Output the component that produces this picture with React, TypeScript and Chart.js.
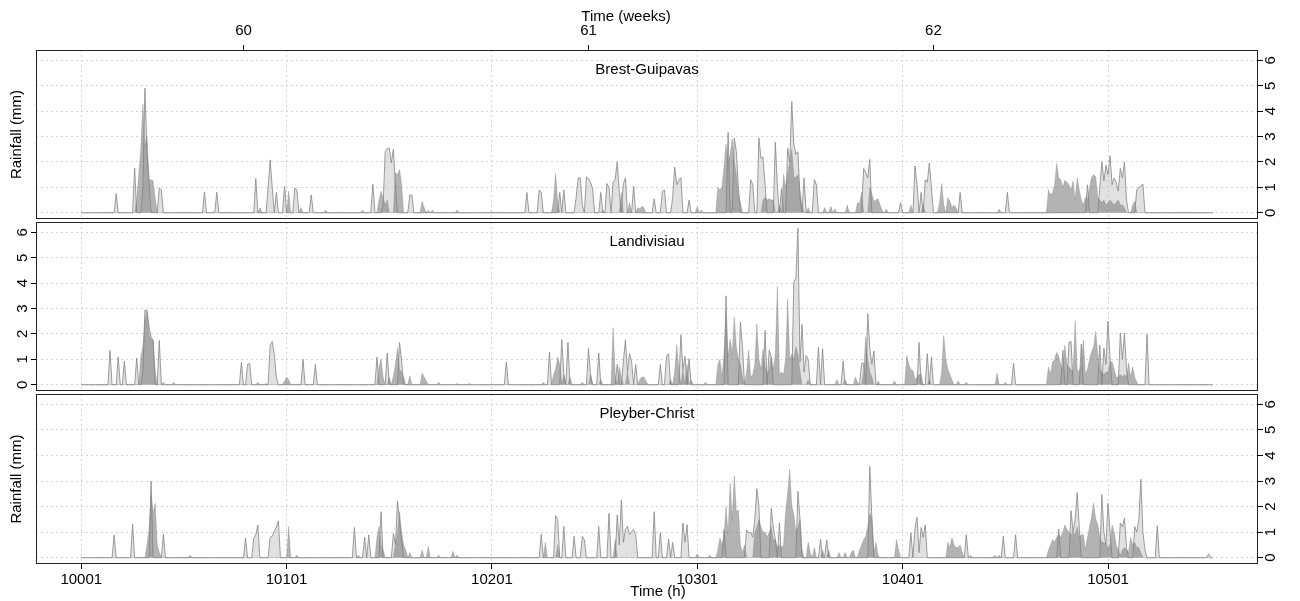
import { useEffect, useRef } from 'react';
import { Chart, registerables } from 'chart.js';

Chart.register(...registerables);

// ---------------- data ----------------
const HOUR_FIRST = 10001;
const HOUR_LAST = 10552;
const HOURS_PER_WEEK = 168;
const hourTicks = [10001, 10101, 10201, 10301, 10401, 10501];
const weekTicks = [60, 61, 62];
const rainTicks = [0, 1, 2, 3, 4, 5, 6];
const stationNames = ['Brest-Guipavas', 'Landivisiau', 'Pleyber-Christ'];
const axisTitles = { weeks: 'Time (weeks)', hours: 'Time (h)', rain: 'Rainfall (mm)' };

// each burst: [first hour, hourly rainfall (mm) from that hour on]
type Burst = [number, number[]];

const brestLight: Burst[] = [
  [10018, [0.76]], [10027, [1.76]], [10031, [1.0, 4.9, 2.4, 1.2]], [10039, [0.98, 0.9]],
  [10061, [0.81]], [10067, [0.81]], [10086, [1.35]], [10092, [1.0, 2.08, 1.0]], [10096, [0.8]],
  [10100, [1.04]], [10105, [0.98, 0.9]], [10113, [0.7]], [10143, [1.13]],
  [10148, [0.3, 2.4, 2.52, 2.54, 1.96, 2.5, 1.0]], [10161, [0.7, 0.7]],
  [10218, [0.8]], [10224, [0.9, 0.8]], [10234, [0.8]], [10236, [0.9]],
  [10242, [0.6, 1.37, 1.38, 0.3]], [10247, [1.42, 1.33, 1.2, 0.95]], [10254, [0.8]],
  [10257, [1.15, 1.0]], [10260, [1.2, 1.3, 2.0, 0.8]], [10265, [1.15, 1.37]], [10270, [1.05]],
  [10280, [0.55]], [10284, [0.85, 0.9]], [10289, [0.6, 1.8, 1.1, 1.28, 1.38]], [10297, [0.5]],
  [10316, [3.16]], [10319, [2.94, 2.42, 1.0]], [10327, [1.3, 1.1]], [10331, [2.94, 2.15, 2.2, 1.1]],
  [10339, [2.78, 1.0]], [10342, [0.95]], [10345, [2.54, 2.0, 4.38, 2.7, 2.3, 2.4, 0.6]],
  [10353, [1.37]], [10358, [1.3, 1.1]], [10382, [1.74, 1.57, 1.37, 2.1]], [10400, [0.4]],
  [10407, [1.84, 1.1]], [10410, [0.8]], [10412, [1.3, 1.2, 1.96, 1.0]], [10429, [0.8]],
  [10452, [0.8]], [10491, [1.1]],
  [10497, [1.0, 2.0, 1.25, 1.87, 1.5, 2.24, 1.1, 1.37, 1.2, 0.85, 1.75, 1.37, 2.0, 0.5]],
  [10515, [0.9, 1.0, 1.05, 1.13]],
];

const brestDark: Burst[] = [
  [10028, [0.5, 1.5, 2.5, 4.27, 2.6, 3.0, 1.3, 1.3, 1.25, 0.6]], [10088, [0.2]], [10102, [0.85]],
  [10108, [0.2]], [10120, [0.1]], [10138, [0.1]], [10146, [0.5, 0.85, 0.6, 0.3, 0.5]],
  [10154, [1.57, 1.5, 1.7, 1.1]], [10167, [0.45, 0.2]], [10170, [0.1]], [10172, [0.1]],
  [10184, [0.1]], [10231, [0.5, 1.54, 0.4]], [10255, [0.1]], [10264, [0.8]], [10268, [0.4]],
  [10272, [0.2, 0.15, 0.25, 0.2]], [10301, [0.25]], [10303, [0.1]],
  [10311, [1.0, 0.9, 1.0, 1.8, 2.7, 2.0, 2.3, 2.9, 2.0, 1.5, 0.7, 0.4]],
  [10333, [0.5, 0.6, 0.5, 0.55, 0.5, 0.5]], [10341, [0.3]],
  [10343, [1.5, 1.0, 1.5, 2.0, 2.5, 1.4, 1.4, 1.5, 0.9, 0.3]], [10355, [0.2]], [10363, [0.2]],
  [10366, [0.25]], [10368, [0.15]], [10374, [0.3]], [10379, [0.4, 0.35, 0.8]],
  [10385, [1.0, 0.75, 0.45, 0.5, 0.55, 0.3, 0.1]], [10393, [0.15]], [10405, [0.3]], [10411, [0.3]],
  [10419, [0.4, 1.15, 0.3]], [10423, [0.6, 0.45, 0.2, 0.3, 0.2]], [10448, [0.15]],
  [10472, [0.9, 0.7, 0.8, 1.1, 1.93, 1.37, 1.3, 1.0, 1.28, 1.2, 1.1, 0.9, 1.25, 0.5, 1.37, 0.9, 0.5,
    0.3, 0.6, 0.5, 1.0, 1.4, 1.5, 1.42, 0.6, 0.5, 0.4, 0.5, 0.3, 0.4, 0.5, 0.4, 0.3, 0.4, 0.5, 0.3, 0.3, 0.2]],
  [10513, [0.3, 0.45]],
];

const landiLight: Burst[] = [
  [10015, [1.35]], [10019, [1.09]], [10022, [0.93]], [10028, [1.05]],
  [10031, [0.5, 2.94, 2.92, 2.3, 1.87, 1.74]], [10039, [1.74]], [10079, [0.88]], [10082, [0.8, 0.84]],
  [10093, [1.55, 1.7, 1.2, 0.3]], [10109, [1.0]], [10115, [0.8]], [10145, [1.09]], [10150, [1.25]],
  [10156, [1.66, 0.95]], [10208, [0.89]], [10229, [1.28]], [10235, [1.78, 0.4]], [10238, [1.67]],
  [10248, [1.43, 0.4]], [10253, [1.25]], [10262, [0.8]], [10265, [0.92, 1.77, 0.5, 1.22, 0.9]],
  [10271, [0.8]], [10283, [0.8]], [10286, [1.12, 1.22]], [10293, [1.97, 0.6, 1.12]], [10297, [1.03]],
  [10315, [3.5]], [10322, [2.47, 1.5]], [10334, [2.13]], [10336, [1.36, 1.1]],
  [10348, [4.03, 4.2, 6.16, 0.9, 2.37, 0.5, 1.15, 1.0]], [10360, [1.48]], [10362, [1.42]],
  [10372, [0.93]], [10381, [0.84, 0.85]], [10384, [2.8, 1.42, 0.8, 1.33]], [10409, [1.67]],
  [10413, [1.22]], [10415, [1.09]], [10455, [0.84]], [10479, [1.36]], [10482, [1.67, 1.7]],
  [10488, [1.6]], [10497, [1.55]], [10499, [1.44, 0.8, 2.5, 1.0]], [10507, [2.03, 1.0, 2.03, 0.6]],
  [10520, [1.98]],
];

const landiDark: Burst[] = [
  [10030, [1.09, 1.5, 2.5, 2.9, 2.0, 1.8, 1.74, 0.55]], [10041, [0.1]], [10046, [0.1]], [10087, [0.1]],
  [10091, [0.05]], [10100, [0.15, 0.3, 0.2]], [10146, [0.7, 1.0, 0.3]], [10151, [0.3]],
  [10153, [0.35, 0.8, 1.45, 0.6, 0.5, 0.3]], [10161, [0.35]], [10167, [0.45, 0.3, 0.15]],
  [10175, [0.1]], [10184, [0.05]], [10190, [0.05]], [10226, [0.1]], [10231, [0.4, 0.6, 1.09, 0.8]],
  [10236, [0.4]], [10239, [0.3]], [10245, [0.1]], [10249, [0.4]], [10254, [0.2]], [10260, [2.24, 0.4]],
  [10263, [0.7, 0.3]], [10267, [0.5]], [10273, [0.2, 0.3, 0.3, 0.15]], [10288, [0.2]],
  [10290, [0.5, 1.57, 0.6]], [10294, [0.6]], [10296, [0.8]], [10298, [0.2]], [10305, [0.1]],
  [10311, [0.8, 1.0, 0.3, 1.2, 2.66, 1.1, 1.8, 1.2, 2.66, 1.5, 1.0, 0.8, 0.3]],
  [10325, [0.5, 1.36, 0.3, 0.4, 0.8, 2.39, 1.0, 0.6, 1.42, 0.7, 0.4, 0.6, 1.1, 0.6, 1.2, 3.87, 0.4,
    0.5, 0.4, 1.0, 3.37, 1.0, 1.2, 1.0, 1.5, 1.2, 0.5]],
  [10355, [0.2]], [10369, [0.2]], [10373, [0.2]], [10378, [0.3, 0.1]], [10382, [0.5, 1.87, 1.0, 0.5, 0.3]],
  [10389, [0.15]], [10397, [0.15]], [10403, [1.15, 0.8, 0.6, 0.55, 0.2, 0.3, 0.4, 0.4]], [10414, [0.2]],
  [10420, [0.5, 1.94, 1.0, 0.6, 0.4, 0.2]], [10428, [0.15]], [10432, [0.1]], [10447, [0.45]],
  [10451, [0.1]],
  [10472, [0.7, 0.4, 0.9, 1.0, 1.28, 1.1, 0.8, 0.6, 1.55, 0.8, 0.7, 0.6, 0.5, 2.52, 0.6, 0.5, 0.8, 1.76,
    0.4, 0.6, 1.0, 1.3, 1.5, 2.1, 1.2, 0.6, 0.5, 0.4, 0.5, 0.5, 0.9, 0.9, 0.6, 0.3, 0.3, 0.4, 0.3, 0.4,
    0.3, 0.86, 0.3, 0.7, 0.3, 0.1]],
];

const pleyLight: Burst[] = [
  [10017, [0.89]], [10026, [1.32]], [10035, [3.0]], [10041, [0.93]], [10081, [0.77]],
  [10085, [0.77, 0.9, 1.28]], [10093, [0.8, 0.84, 1.03, 1.2, 1.44]], [10134, [1.18]], [10139, [0.8]],
  [10141, [0.89]], [10147, [1.8]], [10153, [0.95, 0.5, 2.22, 1.4, 0.7]], [10225, [0.93]],
  [10232, [1.64, 1.5]], [10236, [1.22]], [10241, [0.84]], [10245, [0.84, 0.7]], [10253, [1.22]],
  [10258, [1.74]], [10262, [1.67, 0.5, 2.26, 0.6, 1.12, 1.22, 0.9, 1.03, 1.1, 0.9]], [10280, [1.8]],
  [10283, [0.98]], [10287, [0.73]], [10289, [0.6]], [10294, [1.36, 0.6, 1.29]], [10314, [1.09]],
  [10325, [1.09, 0.97, 1.0, 0.8, 1.5, 2.7, 2.0]], [10337, [1.93, 1.2, 0.7]], [10341, [1.36]],
  [10350, [2.6, 1.5]], [10361, [0.72]], [10364, [0.7]], [10385, [3.57, 1.55]], [10405, [0.98]],
  [10407, [1.15, 1.58, 0.2, 1.18, 0.8, 1.28]], [10432, [0.9]], [10450, [0.84]], [10456, [0.9]],
  [10477, [1.12]], [10483, [1.84, 1.0, 1.5, 2.55, 1.2]], [10498, [2.47, 1.0, 0.5, 2.13, 1.0]],
  [10507, [1.36, 1.2, 1.55, 0.4]], [10514, [1.22, 1.0, 1.5, 3.07, 1.0, 0.3]], [10525, [1.25]],
  [10550, [0.15]],
];

const pleyDark: Burst[] = [
  [10033, [0.5, 1.1, 2.46, 1.74, 2.13, 0.5, 0.2]], [10054, [0.1]], [10102, [1.22]], [10106, [0.1]],
  [10136, [0.1]], [10145, [0.8, 1.22, 0.5, 0.3]], [10154, [0.5, 1.0, 1.8, 1.0, 0.5, 0.3]],
  [10161, [0.2]], [10167, [0.3]], [10170, [0.45]], [10175, [0.1]], [10182, [0.25]], [10184, [0.1]],
  [10227, [0.6]], [10233, [0.5]], [10261, [0.7]], [10301, [0.15]], [10307, [0.1]],
  [10311, [0.3, 0.77, 0.5, 0.8, 1.98, 0.9, 2.92, 1.5, 3.21, 1.8, 1.87, 0.5, 0.2, 0.5]],
  [10329, [1.0, 1.2, 1.5, 1.2, 1.0, 1.0, 0.8, 1.0, 1.2, 0.7, 0.7, 0.4, 0.5, 0.4, 0.5, 1.8, 2.5, 3.47,
    2.0, 1.7, 1.0, 1.2, 1.5, 0.3]],
  [10355, [0.6, 0.2]], [10358, [0.4]], [10362, [0.3]], [10365, [0.3]], [10370, [0.2]], [10373, [0.2]],
  [10376, [0.2, 0.3]], [10380, [0.3, 0.5, 0.7, 0.84, 1.2, 1.74, 1.55, 0.2, 0.6, 0.1]], [10398, [0.7, 0.3]],
  [10423, [0.6, 0.4, 0.77, 0.5, 0.4, 0.4, 0.5, 0.2]], [10434, [0.1]], [10446, [0.1]], [10448, [0.1]],
  [10472, [0.3, 0.5, 0.7, 0.6, 0.8, 0.9, 0.8, 1.0, 1.28, 1.1, 1.0, 0.9, 1.0, 0.9, 1.2, 0.8, 0.9, 0.9,
    0.3, 0.8, 1.2, 1.6, 2.13, 1.5, 1.3, 0.8, 0.6, 0.6, 0.5, 0.4, 0.5, 1.28, 1.0, 0.5, 0.3, 0.1, 0.3,
    0.4, 0.3, 0.2, 0.8, 0.5, 0.6, 0.4, 0.4, 0.2]],
];

const lightSeries = [brestLight, landiLight, pleyLight];
const darkSeries = [brestDark, landiDark, pleyDark];

// ---------------- helpers ----------------
function expand(bursts: Burst[]) {
  const vals = new Map<number, number>();
  for (const [start, vs] of bursts) vs.forEach((v, i) => vals.set(start + i, v));
  const pts: { x: number; y: number }[] = [];
  for (let h = HOUR_FIRST; h <= HOUR_LAST; h++) pts.push({ x: h, y: vals.get(h) ?? 0 });
  return pts;
}

const lightPts = lightSeries.map(expand);
const darkPts = darkSeries.map(expand);
const dataMax = Math.max(...[...lightPts, ...darkPts].flat().map((p) => p.y));
const X_MIN = HOUR_FIRST - 0.04 * (HOUR_LAST - HOUR_FIRST);
const X_MAX = HOUR_LAST + 0.04 * (HOUR_LAST - HOUR_FIRST);
const Y_MIN = -0.04 * dataMax;
const Y_MAX = dataMax * 1.04;

const FONT = { family: "'Liberation Sans', Arial, Helvetica, sans-serif", size: 15, lineHeight: 1.2 };
const GRID_COLOR = '#d3d3d3';
const GRID_DASH = [2, 3];

// layout of the three panels (pixels in a 1300x601 page)
const PLOT_LEFT = 36;
const PLOT_RIGHT = 1258;
const PANEL_TOP = [50, 222, 394];
const PANEL_BOTTOM = [219, 391, 564];
const PAGE_W = 1300;
const PAGE_H = 601;
const WEEKS_TITLE_POS = [626, 17];
const HOURS_TITLE_POS = [658, 592];

const panelPlugin = {
  id: 'rPanel',
  afterDraw(chart: any, _args: any, opts: any) {
    const { ctx, chartArea: a } = chart;
    ctx.save();
    ctx.strokeStyle = '#222';
    ctx.lineWidth = 1;
    ctx.strokeRect(Math.round(a.left) + 0.5, Math.round(a.top) + 0.5, Math.round(a.right - a.left) - 1, Math.round(a.bottom - a.top) - 1);
    ctx.fillStyle = '#000';
    ctx.font = `${FONT.size}px ${FONT.family}`;
    ctx.textAlign = 'center';
    ctx.textBaseline = 'middle';
    ctx.fillText(opts.title, (a.left + a.right) / 2, a.top + 20);
    if (opts.topTitle) ctx.fillText(opts.topTitle, WEEKS_TITLE_POS[0], WEEKS_TITLE_POS[1]);
    if (opts.bottomTitle) ctx.fillText(opts.bottomTitle, HOURS_TITLE_POS[0], HOURS_TITLE_POS[1]);
    ctx.restore();
  },
};

function makeConfig(i: number): any {
  const yPos = i === 1 ? 'left' : 'right';
  const scales: any = {
    x: {
      type: 'linear',
      position: 'bottom',
      min: X_MIN,
      max: X_MAX,
      afterBuildTicks: (s: any) => { s.ticks = hourTicks.map((v) => ({ value: v })); },
      afterFit: (s: any) => { s.height = i === 2 ? PAGE_H - PANEL_BOTTOM[2] : 0; },
      ticks: {
        display: i === 2, font: FONT, color: '#000', padding: 2, autoSkip: false, maxRotation: 0,
        callback: (v: number) => String(v),
      },
      grid: {
        color: GRID_COLOR, lineWidth: 1, drawTicks: i === 2, tickLength: 5, tickColor: '#000',
        tickBorderDash: [], tickWidth: 1,
      },
      border: { display: false, dash: GRID_DASH },
    },
    y: {
      type: 'linear',
      position: yPos,
      min: Y_MIN,
      max: Y_MAX,
      afterBuildTicks: (s: any) => { s.ticks = rainTicks.map((v) => ({ value: v })); },
      afterFit: (s: any) => { s.width = yPos === 'left' ? PLOT_LEFT : PAGE_W - PLOT_RIGHT; },
      ticks: {
        font: FONT, color: '#000', minRotation: 90, maxRotation: 90, crossAlign: 'center', padding: 4,
        autoSkip: false, callback: (v: number) => String(v),
      },
      grid: {
        color: GRID_COLOR, lineWidth: 1, drawTicks: true, tickLength: 5, tickColor: '#000',
        tickBorderDash: [], tickWidth: 1,
      },
      border: { display: false, dash: GRID_DASH },
    },
  };
  if (i === 0) {
    scales.xw = {
      type: 'linear',
      position: 'top',
      min: X_MIN,
      max: X_MAX,
      afterBuildTicks: (s: any) => { s.ticks = weekTicks.map((w) => ({ value: w * HOURS_PER_WEEK })); },
      afterFit: (s: any) => { s.height = PANEL_TOP[0]; },
      ticks: {
        font: FONT, color: '#000', padding: 5, autoSkip: false, maxRotation: 0,
        callback: (v: number) => String(Math.round(v / HOURS_PER_WEEK)),
      },
      grid: { display: true, drawOnChartArea: false, drawTicks: true, tickLength: 5, tickColor: '#000', tickBorderDash: [] },
      border: { display: false },
    };
  }
  if (i !== 1) {
    scales.yl = {
      type: 'linear',
      position: 'left',
      afterFit: (s: any) => { s.width = PLOT_LEFT; },
      ticks: { display: false },
      grid: { display: false },
      border: { display: false },
      title: { display: true, text: axisTitles.rain, font: FONT, color: '#000', padding: { top: 8, bottom: 0 } },
    };
  }
  return {
    type: 'line',
    data: {
      datasets: [
        {
          data: lightPts[i], order: 1, fill: 'origin', pointRadius: 0, tension: 0,
          backgroundColor: 'rgba(200,200,200,0.55)', borderColor: 'rgba(140,140,140,0.85)', borderWidth: 1,
          borderJoinStyle: 'round',
        },
        {
          data: darkPts[i], order: 0, fill: 'origin', pointRadius: 0, tension: 0,
          backgroundColor: 'rgba(128,128,128,0.6)', borderColor: 'rgba(128,128,128,0.35)', borderWidth: 1,
          borderJoinStyle: 'round',
        },
      ],
    },
    options: {
      responsive: false,
      animation: false,
      parsing: false,
      events: [],
      layout: {
        padding: {
          top: i === 0 ? 0 : PANEL_TOP[i],
          bottom: i === 2 ? 0 : PAGE_H - PANEL_BOTTOM[i],
          left: 0,
          right: i === 1 ? PAGE_W - PLOT_RIGHT : 0,
        },
      },
      plugins: {
        legend: { display: false },
        tooltip: { enabled: false },
        rPanel: {
          title: stationNames[i],
          topTitle: i === 0 ? axisTitles.weeks : '',
          bottomTitle: i === 2 ? axisTitles.hours : '',
        },
      },
      scales,
    },
    plugins: [panelPlugin],
  };
}

function Panel({ index }: { index: number }) {
  const ref = useRef<HTMLCanvasElement>(null);
  useEffect(() => {
    const chart = new Chart(ref.current as HTMLCanvasElement, makeConfig(index));
    return () => chart.destroy();
  }, [index]);
  return (
    <canvas
      ref={ref}
      width={PAGE_W}
      height={PAGE_H}
      style={{ position: 'absolute', left: 0, top: 0, width: PAGE_W, height: PAGE_H }}
    />
  );
}

export default function App() {
  return (
    <div style={{ position: 'fixed', left: 0, top: 0, width: PAGE_W, height: PAGE_H, background: '#fff' }}>
      {[0, 1, 2].map((i) => (
        <Panel key={i} index={i} />
      ))}
    </div>
  );
}
